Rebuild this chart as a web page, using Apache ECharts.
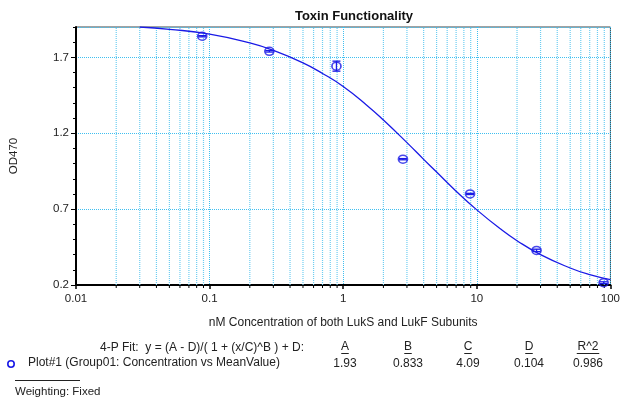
<!DOCTYPE html>
<html>
<head>
<meta charset="utf-8">
<script src="https://cdn.jsdelivr.net/npm/echarts@6/dist/echarts.min.js"></script>
<style>html,body{margin:0;padding:0;background:#fff}#c{width:623px;height:402px}</style>
</head>
<body>
<div id="c"></div>
<script>
// ---- data ----
var concentration = [0.088, 0.28, 0.89, 2.8, 8.9, 28, 89];
var meanValue     = [1.839, 1.74, 1.642, 1.029, 0.80, 0.428, 0.215];
var errorValue    = [0.004, 0.005, 0.033, 0.004, 0.004, 0.008, 0.006];
var fitX = [0.03, 0.05, 0.1, 0.2, 0.3, 0.5, 0.7, 1, 1.5, 2, 3, 4, 5, 7, 10, 15, 20, 30, 50, 70, 100];
var fitY = [1.90, 1.885, 1.853, 1.795, 1.746, 1.664, 1.594, 1.508, 1.385, 1.287, 1.138, 1.028, 0.944, 0.818, 0.695, 0.570, 0.492, 0.400, 0.312, 0.268, 0.235];
var xMinorGrid = [0.02,0.03,0.04,0.05,0.06,0.07,0.08,0.09,
                  0.2,0.3,0.4,0.5,0.6,0.7,0.8,0.9,
                  2,3,4,5,6,7,8,9,
                  20,30,40,50,60,70,80,90];
var yTickLabels = ['0.2','0.7','1.2','1.7'];
var fitParamNames  = ['A','B','C','D','R^2'];
var fitParamValues = ['1.93','0.833','4.09','0.104','0.986'];

var FONT = 'Liberation Sans, Arial, sans-serif';
var BLUE = '#1a1ae6';
var GRIDC = '#3fbff0';
var GRIDMINOR = '#6dcdf2';

var chart = echarts.init(document.getElementById('c'), null, {renderer:'canvas'});

var fitLine = fitX.map(function(x,i){return [x, fitY[i]];});
var points = concentration.map(function(x,i){return [x, meanValue[i]];});
var errs = concentration.map(function(x,i){return [x, meanValue[i]-errorValue[i], meanValue[i]+errorValue[i]];});
var minorData = xMinorGrid.map(function(x){return [x, 0.2, 1.9];});

var colX = [345, 408, 468, 529, 588];
var graphics = [];
graphics.push({type:'text', left:100, top:342, style:{text:'4-P Fit:  y = (A - D)/( 1 + (x/C)^B ) + D:', font:'12px '+FONT, fill:'#222'}});
fitParamNames.forEach(function(n,i){
  graphics.push({type:'text', x:colX[i], y:341, style:{text:n, font:'12px '+FONT, fill:'#222', align:'center', verticalAlign:'top'}});
  var w = n.length*7.5;
  graphics.push({type:'line', shape:{x1:colX[i]-w/2, y1:353.5, x2:colX[i]+w/2, y2:353.5}, style:{stroke:'#222', lineWidth:1}});
  graphics.push({type:'text', x:colX[i], y:358, style:{text:fitParamValues[i], font:'12px '+FONT, fill:'#222', align:'center', verticalAlign:'top'}});
});
graphics.push({type:'circle', shape:{cx:11, cy:364, r:3.2}, style:{stroke:BLUE, fill:'none', lineWidth:1.6}});
graphics.push({type:'text', left:28, top:357, style:{text:'Plot#1 (Group01: Concentration vs MeanValue)', font:'12px '+FONT, fill:'#222'}});
graphics.push({type:'line', shape:{x1:15, y1:380.5, x2:80, y2:380.5}, style:{stroke:'#222', lineWidth:1}});
graphics.push({type:'text', left:15, top:386, style:{text:'Weighting: Fixed', font:'11.5px '+FONT, fill:'#222'}});

var option = {
  animation:false,
  backgroundColor:'#fff',
  title:{text:'Toxin Functionality', left:349, top:5, textAlign:'center',
    textStyle:{fontFamily:FONT, fontSize:13, fontWeight:'bold', color:'#111'}},
  grid:{left:75, right:10, top:27, bottom:117, show:true, borderColor:'#444', borderWidth:1},
  xAxis:{type:'log', logBase:10, min:0.01, max:100,
    name:'nM Concentration of both LukS and LukF Subunits', nameLocation:'middle', nameGap:32,
    nameTextStyle:{fontFamily:FONT, fontSize:12, color:'#222'},
    axisLine:{show:true, lineStyle:{color:'#000', width:2}},
    axisTick:{show:true, inside:false, length:4, lineStyle:{color:'#000', width:1.5}},
    axisLabel:{fontFamily:FONT, fontSize:11.5, color:'#222', margin:8},
    splitLine:{show:true, lineStyle:{color:GRIDC, type:'dotted', width:1}}
  },
  yAxis:[
    {type:'value', min:0.2, max:1.9, interval:0.1, position:'left',
     axisLine:{show:true, lineStyle:{color:'#000', width:2}},
     axisTick:{show:true, length:3, lineStyle:{color:'#000'}},
     axisLabel:{show:false}, splitLine:{show:false}},
    {type:'value', min:0.2, max:1.9, interval:0.5, position:'left', offset:0,
     name:'OD470', nameLocation:'middle', nameGap:56, nameRotate:90,
     nameTextStyle:{fontFamily:FONT, fontSize:11.5, color:'#222'},
     axisLine:{show:false},
     axisTick:{show:true, length:5, lineStyle:{color:'#000'}},
     axisLabel:{fontFamily:FONT, fontSize:11.5, color:'#222', margin:7, showMaxLabel:false,
       formatter:function(v){ var s=(Math.round(v*10)/10).toFixed(1); return yTickLabels.indexOf(s)>=0? s : ''; }},
     splitLine:{show:true, lineStyle:{color:GRIDC, type:'dotted', width:1}}}
  ],
  graphic:graphics,
  series:[
    {type:'custom', silent:true, z:1, data:minorData, encode:{x:0, y:[1,2]},
     renderItem:function(params, api){
       var x = api.value(0);
       var p0 = api.coord([x, api.value(1)]);
       var p1 = api.coord([x, api.value(2)]);
       return {type:'group', children:[
         {type:'line', shape:{x1:p0[0], y1:p0[1], x2:p1[0], y2:p1[1]}, style:{stroke:GRIDMINOR, lineWidth:1.2, lineDash:[1,1]}},
         {type:'line', shape:{x1:p0[0], y1:p0[1], x2:p0[0], y2:p0[1]+3}, style:{stroke:'#000', lineWidth:1}}
       ]};
     }},
    {type:'line', data:fitLine, smooth:true, symbol:'none', z:3,
     lineStyle:{color:BLUE, width:1.3}},
    {type:'custom', z:4, data:errs, encode:{x:0, y:[1,2]},
     renderItem:function(params, api){
       var x = api.value(0);
       var lo = api.coord([x, api.value(1)]);
       var hi = api.coord([x, api.value(2)]);
       var st = {stroke:BLUE, lineWidth:1.3};
       return {type:'group', children:[
         {type:'line', shape:{x1:lo[0], y1:lo[1], x2:hi[0], y2:hi[1]}, style:st},
         {type:'line', shape:{x1:lo[0]-4, y1:lo[1], x2:lo[0]+4, y2:lo[1]}, style:st},
         {type:'line', shape:{x1:hi[0]-4, y1:hi[1], x2:hi[0]+4, y2:hi[1]}, style:st}
       ]};
     }},
    {type:'scatter', data:points, symbol:'circle', symbolSize:[9,8], z:5,
     itemStyle:{color:'rgba(0,0,0,0)', borderColor:BLUE, borderWidth:1.6}}
  ]
};
chart.setOption(option);
</script>
</body>
</html>
